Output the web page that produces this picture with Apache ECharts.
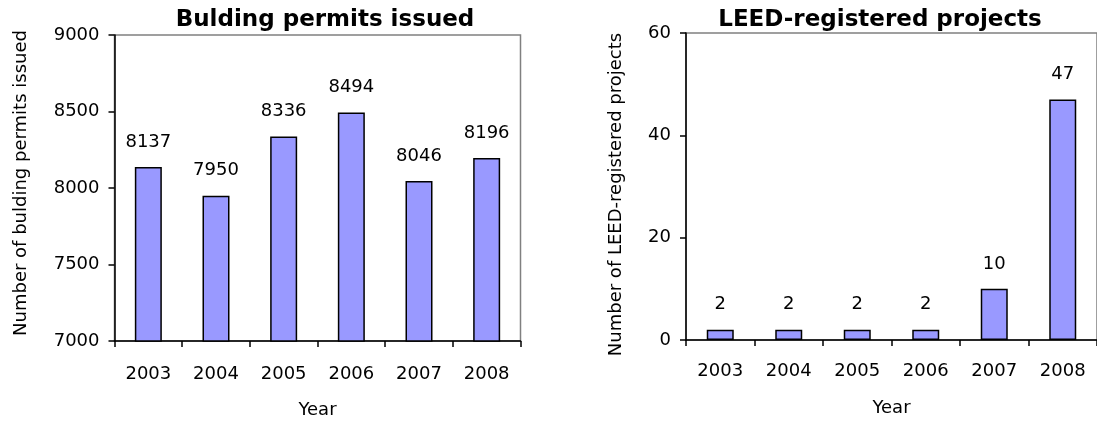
<!DOCTYPE html>
<html>
<head>
<meta charset="utf-8">
<script src="https://cdn.jsdelivr.net/npm/echarts@6/dist/echarts.min.js"></script>
<style>
  html, body { margin: 0; padding: 0; background: #fff; }
  #chart { width: 1097px; height: 424px; }
</style>
</head>
<body>
<div id="chart"></div>
<script>
const years = ['2003', '2004', '2005', '2006', '2007', '2008'];
const permits = [8137, 7950, 8336, 8494, 8046, 8196];
const leed = [2, 2, 2, 2, 10, 47];
const permitsTitle = 'Bulding permits issued';
const leedTitle = 'LEED-registered projects';
const permitsYName = 'Number of bulding permits issued';
const leedYName = 'Number of LEED-registered projects';
const xName = 'Year';
const permitsRange = [7000, 9000, 500];
const leedRange = [0, 60, 20];

const FONT = 'DejaVu Sans';
const txt = { fontFamily: FONT, fontSize: 18, color: '#000' };

function xAxis(gridIndex, labelMargin, nameGap) {
  return {
    type: 'category', gridIndex, data: years, boundaryGap: true,
    axisLine: { show: true, lineStyle: { color: '#000', width: 1.5 } },
    axisTick: { show: true, length: 6, inside: false, alignWithLabel: false, lineStyle: { color: '#000', width: 1.5 } },
    axisLabel: Object.assign({ margin: labelMargin, interval: 0 }, txt),
    splitLine: { show: false },
    name: xName, nameLocation: 'middle', nameGap,
    nameTextStyle: Object.assign({}, txt)
  };
}
function yAxis(gridIndex, range, name, nameGap, padding) {
  return {
    type: 'value', gridIndex, min: range[0], max: range[1], interval: range[2],
    axisLine: { show: true, lineStyle: { color: '#000', width: 1.5 } },
    axisTick: { show: true, length: 6, lineStyle: { color: '#000', width: 1.5 } },
    axisLabel: Object.assign({ margin: 15, formatter: (v) => String(v) }, txt),
    splitLine: { show: false },
    name, nameLocation: 'middle', nameGap, nameRotate: 90,
    nameTextStyle: Object.assign({ padding }, txt)
  };
}
function bars(idx, data) {
  return {
    type: 'bar', xAxisIndex: idx, yAxisIndex: idx, data, barWidth: 27, clip: true,
    itemStyle: { color: '#9999FF', borderColor: '#000', borderWidth: 1.5 },
    label: Object.assign({ show: true, position: 'top', distance: 16 }, txt),
    emphasis: { disabled: true }
  };
}

const chart = echarts.init(document.getElementById('chart'), null, { renderer: 'canvas' });
chart.setOption({
  animation: false,
  backgroundColor: '#fff',
  title: [
    { text: permitsTitle, left: 320, textAlign: 'center', top: 4,
      textStyle: { fontFamily: FONT, fontSize: 23, fontWeight: 'bold', color: '#000' } },
    { text: leedTitle, left: 875, textAlign: 'center', top: 4,
      textStyle: { fontFamily: FONT, fontSize: 23, fontWeight: 'bold', color: '#000' } }
  ],
  grid: [
    { left: 114.5, top: 35, width: 406, height: 311, show: true, borderColor: '#808080', borderWidth: 1.5, backgroundColor: 'transparent' },
    { left: 686, top: 33, width: 414, height: 307, show: true, borderColor: '#808080', borderWidth: 1.5, backgroundColor: 'transparent' }
  ],
  xAxis: [xAxis(0, 24, 60), xAxis(1, 22, 59)],
  yAxis: [
    yAxis(0, permitsRange, permitsYName, 84, [0, 0, 0, 10]),
    yAxis(1, leedRange, leedYName, 61, [0, 16, 0, 0])
  ],
  series: [bars(0, permits), bars(1, leed)]
});
</script>
</body>
</html>
